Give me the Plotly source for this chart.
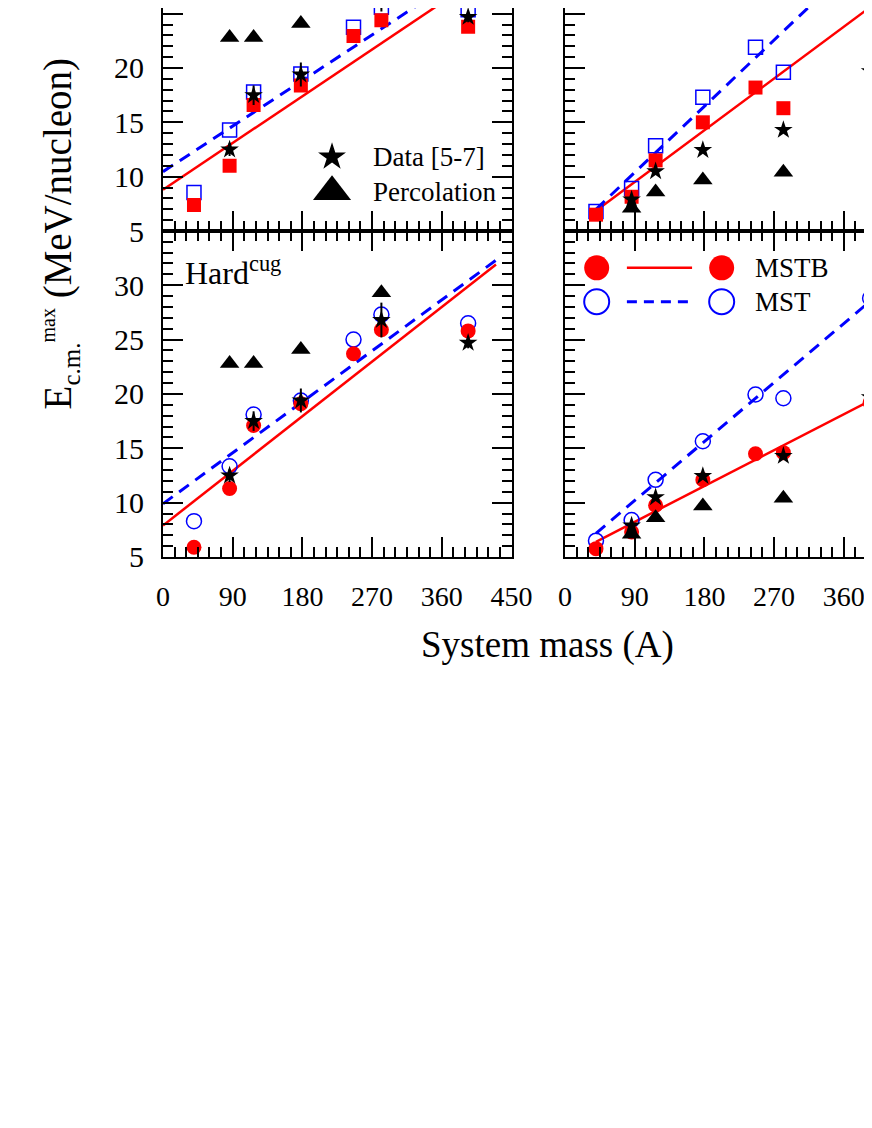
import plotly.graph_objects as go

# system masses (A)
mass = [40, 86, 117, 178, 246, 282, 394]
mass_data = [86, 117, 178, 282, 394]
mass_perc = [86, 117, 178, 282]

# experimental data and percolation, left column
data_left = [12.5, 17.5, 19.4, 26.8, 24.7]
data_left_err = [0.6, 0.9, 1.1, 1.6, 0.5]
perc_left = [22.8, 22.8, 24.1, 29.3]

# experimental data and percolation, right column
data_right = [7.9, 10.5, 12.45, 14.3, 19.7]
perc_right = [7.1, 8.6, 9.7, 10.4]

# model results (MSTB filled, MST open)
mstb_tl = [7.4, 11.0, 16.6, 18.4, 22.95, 24.4, 23.8]
mst_tl = [8.55, 14.3, 17.8, 19.45, 23.75, 25.6, 25.35]
mstb_bl = [5.9, 11.3, 17.1, 19.1, 23.7, 25.9, 25.8]
mst_bl = [8.3, 13.35, 18.1, 19.4, 25.0, 27.3, 26.5]
mstb_tr = [6.5, 8.15, 11.5, 15.0, 18.2, 16.3, 26.5]
mst_tr = [6.8, 8.9, 12.85, 17.3, 21.9, 19.6, 29.0]
mstb_br = [5.77, 7.3, 9.76, 12.1, 14.5, 14.6, 19.2]
mst_br = [6.5, 8.4, 12.1, 15.65, 19.95, 19.6, 28.8]

# linear fits (end points)
fit_x_left = [0, 430]
fit_x_right = [40, 430]
fitb_tl = [8.8, 29.35]
fit_tl = [10.46, 30.5]
fitb_bl = [7.9, 31.9]
fit_bl = [9.9, 32.3]
fitb_tr = [6.87, 27.5]
fit_tr = [7.0, 33.4]
fitb_br = [6.4, 20.7]
fit_br = [7.18, 30.7]

RED = "#ff0000"
BLUE = "#0000ff"
FONT = "Liberation Serif"

fig = go.Figure()


def add_panel(xa, ya, mstb, mst, fitx, fitb, fit, sym, dat, err, perc):
    fig.add_trace(go.Scatter(x=fitx, y=fitb, mode="lines", xaxis=xa, yaxis=ya,
                             line=dict(color=RED, width=2.5)))
    fig.add_trace(go.Scatter(x=fitx, y=fit, mode="lines", xaxis=xa, yaxis=ya,
                             line=dict(color=BLUE, width=3, dash="12px,8px")))
    size = 15 if sym == "circle" else 14
    fig.add_trace(go.Scatter(x=mass, y=mst, mode="markers", xaxis=xa, yaxis=ya,
                             marker=dict(symbol=sym + "-open", size=size, color=BLUE,
                                         line=dict(width=1.5, color=BLUE))))
    fig.add_trace(go.Scatter(x=mass, y=mstb, mode="markers", xaxis=xa, yaxis=ya,
                             marker=dict(symbol=sym, size=size, color=RED, line=dict(width=0))))
    fig.add_trace(go.Scatter(x=mass_perc, y=perc, mode="markers", xaxis=xa, yaxis=ya,
                             marker=dict(symbol="triangle-up", size=17, color="black", line=dict(width=0))))
    ey = dict(type="data", array=err, color="black", thickness=2, width=0) if err else None
    fig.add_trace(go.Scatter(x=mass_data, y=dat, mode="markers", xaxis=xa, yaxis=ya, error_y=ey,
                             marker=dict(symbol="star", size=14, color="black", line=dict(width=0))))


add_panel("x", "y", mstb_bl, mst_bl, fit_x_left, fitb_bl, fit_bl, "circle", data_left, data_left_err, perc_left)
add_panel("x2", "y2", mstb_br, mst_br, fit_x_right, fitb_br, fit_br, "circle", data_right, None, perc_right)
add_panel("x3", "y3", mstb_tl, mst_tl, fit_x_left, fitb_tl, fit_tl, "square", data_left, data_left_err, perc_left)
add_panel("x4", "y4", mstb_tr, mst_tr, fit_x_right, fitb_tr, fit_tr, "square", data_right, None, perc_right)

# legend keys drawn on overlay axes (0-1 inside panel)
fig.add_trace(go.Scatter(x=[0.485], y=[0.332], mode="markers", xaxis="x5", yaxis="y5",
                         marker=dict(symbol="star", size=21, color="black", line=dict(width=0))))
fig.add_trace(go.Scatter(x=[0.485], y=[0.176], mode="markers", xaxis="x5", yaxis="y5",
                         marker=dict(symbol="triangle-up", size=33, color="black", line=dict(width=0))))
fig.add_trace(go.Scatter(x=[0.207, 0.425], y=[0.887, 0.887], mode="lines", xaxis="x6", yaxis="y6",
                         line=dict(color=RED, width=2.5)))
fig.add_trace(go.Scatter(x=[0.106, 0.524], y=[0.887, 0.887], mode="markers", xaxis="x6", yaxis="y6",
                         marker=dict(symbol="circle", size=25, color=RED, line=dict(width=0))))
fig.add_trace(go.Scatter(x=[0.207, 0.425], y=[0.783, 0.783], mode="lines", xaxis="x6", yaxis="y6",
                         line=dict(color=BLUE, width=3, dash="10px,7px")))
fig.add_trace(go.Scatter(x=[0.106, 0.524], y=[0.783, 0.783], mode="markers", xaxis="x6", yaxis="y6",
                         marker=dict(symbol="circle-open", size=25, color=BLUE, line=dict(width=2, color=BLUE))))

common = dict(showgrid=False, zeroline=False, showline=True, linecolor="black", linewidth=2,
              ticks="inside", ticklen=20, tickwidth=2, tickcolor="black", automargin=False)
xfont = dict(family=FONT, size=28, color="black")
yfont = dict(family=FONT, size=30, color="black")
xminor = dict(ticks="inside", ticklen=10, tickwidth=2, tickcolor="black", tick0=0, dtick=15)
yminor = dict(ticks="inside", ticklen=10, tickwidth=2, tickcolor="black", tick0=5, dtick=1)
left_dom = [0, 0.49715]
right_dom = [0.57347, 1]
bot_dom = [0, 0.59381]
top_dom = [0.59381, 1]
xr_right = [0, 386.1]
yr_top = [5, 25.52]

hidden = dict(visible=False, range=[0, 1], showgrid=False, zeroline=False, automargin=False)

fig.update_layout(
    template="none",
    width=856, height=1112,
    margin=dict(l=155, r=0, t=0, b=563, autoexpand=False),
    paper_bgcolor="white", plot_bgcolor="white",
    showlegend=False,
    font=dict(family=FONT, color="black"),
    xaxis=dict(domain=left_dom, range=[0, 450], anchor="y", tick0=0, dtick=90, minor=xminor,
               mirror="ticks", ticklabelstandoff=13, tickfont=xfont, **common),
    xaxis2=dict(domain=right_dom, range=xr_right, anchor="y2", tick0=0, dtick=90, minor=xminor,
                mirror="ticks", ticklabelstandoff=13, ticklabeloverflow="allow", tickfont=xfont, **common),
    xaxis3=dict(domain=left_dom, range=[0, 450], anchor="y3", tick0=0, dtick=90, minor=xminor,
                showticklabels=False, **common),
    xaxis4=dict(domain=right_dom, range=xr_right, anchor="y4", tick0=0, dtick=90, minor=xminor,
                showticklabels=False, **common),
    yaxis=dict(domain=bot_dom, range=[5, 34.99], anchor="x", tick0=5, dtick=5, minor=yminor,
               mirror="ticks", ticklabelstandoff=11, tickfont=yfont, **common),
    yaxis2=dict(domain=bot_dom, range=[5, 34.99], anchor="x2", tick0=5, dtick=5, minor=yminor,
                showticklabels=False, **common),
    yaxis3=dict(domain=top_dom, range=yr_top, anchor="x3", tick0=5, dtick=5, minor=yminor,
                mirror="ticks", ticklabelstandoff=11, tickfont=yfont, **common),
    yaxis4=dict(domain=top_dom, range=yr_top, anchor="x4", tick0=5, dtick=5, minor=yminor,
                showticklabels=False, **common),
    xaxis5=dict(overlaying="x3", anchor="y5", **hidden),
    yaxis5=dict(overlaying="y3", anchor="x5", **hidden),
    xaxis6=dict(overlaying="x2", anchor="y6", **hidden),
    yaxis6=dict(overlaying="y2", anchor="x6", **hidden),
)

ann = [
    dict(text="Data [5-7]", xref="x3 domain", yref="y3 domain", x=0.598, y=0.332,
         xanchor="left", yanchor="middle", font=dict(size=27)),
    dict(text="Percolation", xref="x3 domain", yref="y3 domain", x=0.598, y=0.176,
         xanchor="left", yanchor="middle", font=dict(size=27)),
    dict(text="MSTB", xref="x2 domain", yref="y2 domain", x=0.629, y=0.887,
         xanchor="left", yanchor="middle", font=dict(size=27)),
    dict(text="MST", xref="x2 domain", yref="y2 domain", x=0.629, y=0.783,
         xanchor="left", yanchor="middle", font=dict(size=27)),
    dict(text="Hard<sup>cug</sup>", xref="x domain", yref="y domain", x=0.058, y=0.878,
         xanchor="left", yanchor="middle", font=dict(size=32)),
    dict(text="System mass (A)", xref="paper", yref="paper", x=0.5485, y=-0.1603,
         xanchor="center", yanchor="middle", font=dict(size=37)),
    dict(text="E<sub><span style='font-size:25px'>c.m.</span></sub>"
              "<sup><span style='font-size:20px'>max</span></sup> (MeV/nucleon)",
         xref="paper", yref="paper", x=-0.1463, y=0.5884, textangle=-90,
         xanchor="center", yanchor="middle", font=dict(size=39)),
]
for a in ann:
    a["showarrow"] = False
    a["font"]["family"] = FONT
    a["font"]["color"] = "black"
fig.update_layout(annotations=ann)

fig.write_html("out.html")
